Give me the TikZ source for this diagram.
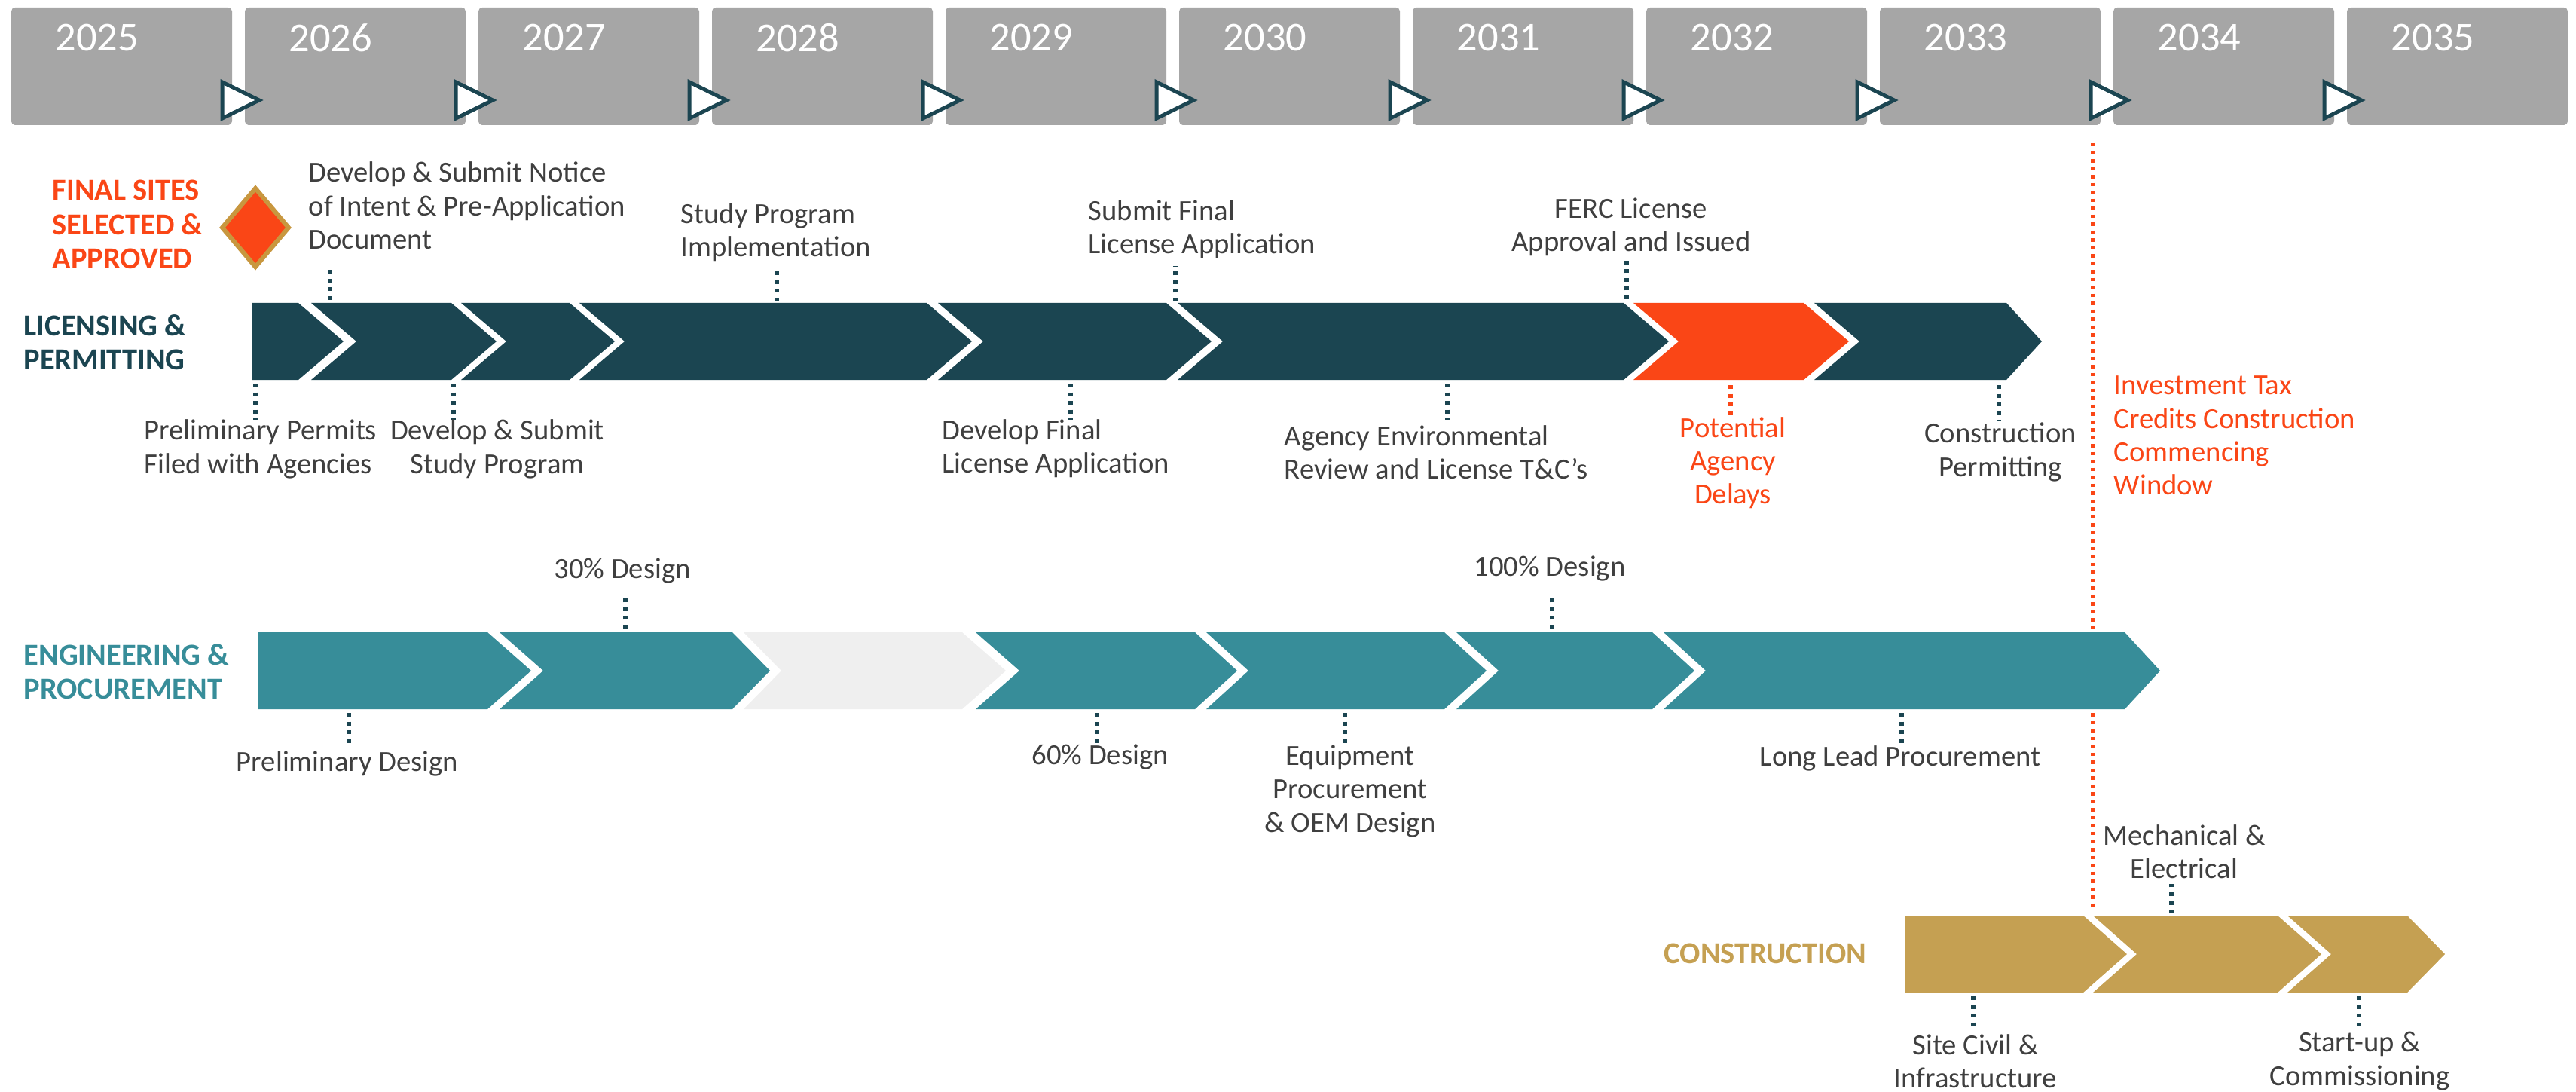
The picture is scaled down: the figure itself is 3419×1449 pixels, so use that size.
\documentclass[tikz,border=0pt]{standalone}
\usepackage{fontspec}
\setmainfont{Carlito}
\definecolor{licteal}{HTML}{1B4551}
\definecolor{engteal}{HTML}{378D99}
\definecolor{gold}{HTML}{C5A052}
\definecolor{flame}{HTML}{FA4616}
\definecolor{yeargray}{HTML}{A6A6A6}
\definecolor{palegray}{HTML}{EFEFEF}
\definecolor{txt}{HTML}{3F3F3F}
\definecolor{diamondrim}{HTML}{C8973F}
% chevron: colour, left, right, mid y, notch depth, tip depth
\newcommand{\chev}[6]{%
  \fill[#1] (#2,#4-51) -- (#3,#4-51) -- (#3+#6,#4) -- (#3,#4+51) -- (#2,#4+51) -- (#2+#5,#4) -- cycle;}
\begin{document}
\begin{tikzpicture}[x=0.01cm,y=-0.01cm,
	lbl/.style={font=\fontsize{11}{12.6}\selectfont,text=txt,inner sep=0pt,align=left,anchor=west},
	clbl/.style={lbl,align=center,anchor=center},
	side/.style={font=\fontsize{11.5}{12.9}\selectfont\bfseries,inner sep=0pt,align=left,anchor=west},
	year/.style={font=\fontsize{15.5}{18}\selectfont,text=white,inner sep=0pt,anchor=west},
	yearbox/.style={fill=yeargray,rounded corners=0.05cm},
	marker/.style={draw=licteal,fill=white,line width=0.05cm},
	tick/.style={licteal,line width=0.055cm,dash pattern=on 0.05cm off 0.065cm},
	window/.style={flame,line width=0.05cm,dash pattern=on 0.045cm off 0.06cm}]
		\useasboundingbox (0,0) rectangle (3419,1449);
		% years
		\foreach \i in {0,...,10}{
			\pgfmathtruncatemacro{\yr}{2025+\i}
			\fill[yearbox] (15+310*\i,10) rectangle (308+310*\i,166);
			\node[year] (y\yr) at (73+310*\i,50) {\yr};
		}
		\foreach \i in {0,...,9}
			\filldraw[marker] (295+310*\i,109) -- (295+310*\i,157) -- (344+310*\i,133) -- cycle;
		% tax credit window
		\coordinate (wtop) at (2777,190);
		\coordinate (wbot) at (2777,1205);
		\draw[window] (wtop) -- (wbot);
		% licensing
		\chev{licteal}{335}{396}{453}{0}{60}
		\chev{licteal}{413}{599}{453}{60}{60}
		\chev{licteal}{612}{756}{453}{60}{60}
		\chev{licteal}{769}{1230}{453}{60}{60}
		\chev{licteal}{1245}{1548}{453}{60}{60}
		\chev{licteal}{1563}{2155}{453}{60}{60}
		\chev{flame}{2168}{2394}{453}{60}{60}
		\chev{licteal}{2408}{2663}{453}{60}{47}
		% engineering
		\chev{engteal}{342}{647}{890}{0}{58}
		\chev{engteal}{663}{972}{890}{58}{50}
		\chev{palegray}{987}{1277}{890}{50}{58}
		\chev{engteal}{1295}{1586}{890}{58}{56}
		\chev{engteal}{1601}{1917}{890}{56}{56}
		\chev{engteal}{1933}{2193}{890}{56}{56}
		\chev{engteal}{2208}{2820}{890}{56}{47}
		% construction
		\chev{gold}{2529}{2765}{1266}{0}{58}
		\chev{gold}{2778}{3023}{1266}{58}{58}
		\chev{gold}{3036}{3195}{1266}{58}{50}
		% milestone
		\filldraw[fill=flame,draw=diamondrim,line width=0.06cm]
		(339,250) -- (383,302) -- (339,354) -- (295,302) -- cycle;
		% ticks
		\foreach \n/\x/\ya/\yb in {1/438/398/353,2/1031/400/357,3/1560/400/353,4/2159/397/343,
			5/339/509/557,6/602/509/557,7/1421/509/557,8/1921/509/557,9/2653/511/558,
			10/830/834/794,11/2060/834/788,12/463/946/992,13/1456/946/990,14/1785/946/990,
			15/2524/946/990,16/2882/1212/1173,17/2619/1322/1368,18/3131/1322/1368}{
			\coordinate (t\n a) at (\x,\ya);
			\coordinate (t\n b) at (\x,\yb);
			\draw[tick] (t\n a) -- (t\n b);
		}
		\coordinate (dla) at (2297,511);
		\coordinate (dlb) at (2297,555);
		\draw[tick,flame] (dla) -- (dlb);
		% row labels
		\node[side,text=flame] (sites) at (69,298) {FINAL SITES\\SELECTED \&\\APPROVED};
		\node[side,text=licteal] (lic) at (31,454) {LICENSING \&\\PERMITTING};
		\node[side,text=engteal] (eng) at (31,891) {ENGINEERING \&\\PROCUREMENT};
		\node[side,text=gold] (cons) at (2208,1265) {CONSTRUCTION};
		% licensing annotation
		\node[lbl] (notice) at (409,273) {Develop \& Submit Notice\\of Intent \& Pre-Application\\Document};
		\node[lbl] (study) at (903,308) {Study Program\\Implementation};
		\node[lbl] (submit) at (1444,304) {Submit Final\\License Application};
		\node[clbl] (ferc) at (2165,301) {FERC License\\Approval and Issued};
		\node[lbl] (permits) at (191,596) {Preliminary Permits\\Filed with Agencies};
		\node[clbl] (studyprog) at (660,596) {Develop \& Submit\\Study Program};
		\node[lbl] (devfinal) at (1250,595) {Develop Final\\License Application};
		\node[lbl] (agency) at (1704,600) {Agency Environmental\\Review and License T\&C’s};
		\node[clbl,text=flame] (delays) at (2300,614) {Potential\\Agency\\Delays};
		\node[clbl] (cpermit) at (2655,600) {Construction\\Permitting};
		\node[lbl,text=flame] (itc) at (2805,578) {Investment Tax\\Credits Construction\\Commencing\\Window};
		% engineering annotation
		\node[clbl] (d30) at (826,758) {30\% Design};
		\node[clbl] (prelim) at (461,1013) {Preliminary Design};
		\node[clbl] (d60) at (1460,1005) {60\% Design};
		\node[clbl] (equip) at (1792,1050) {Equipment\\Procurement\\\& OEM Design};
		\node[clbl] (d100) at (2057,755) {100\% Design};
		\node[clbl] (longlead) at (2522,1006) {Long Lead Procurement};
		% construction annotation
		\node[clbl] (mech) at (2899,1130) {Mechanical \&\\Electrical};
		\node[clbl] (civil) at (2622,1408) {Site Civil \&\\Infrastructure};
		\node[clbl] (startup) at (3132,1408) {Start-up \&\\Commissioning};
	\end{tikzpicture}
\end{document}
